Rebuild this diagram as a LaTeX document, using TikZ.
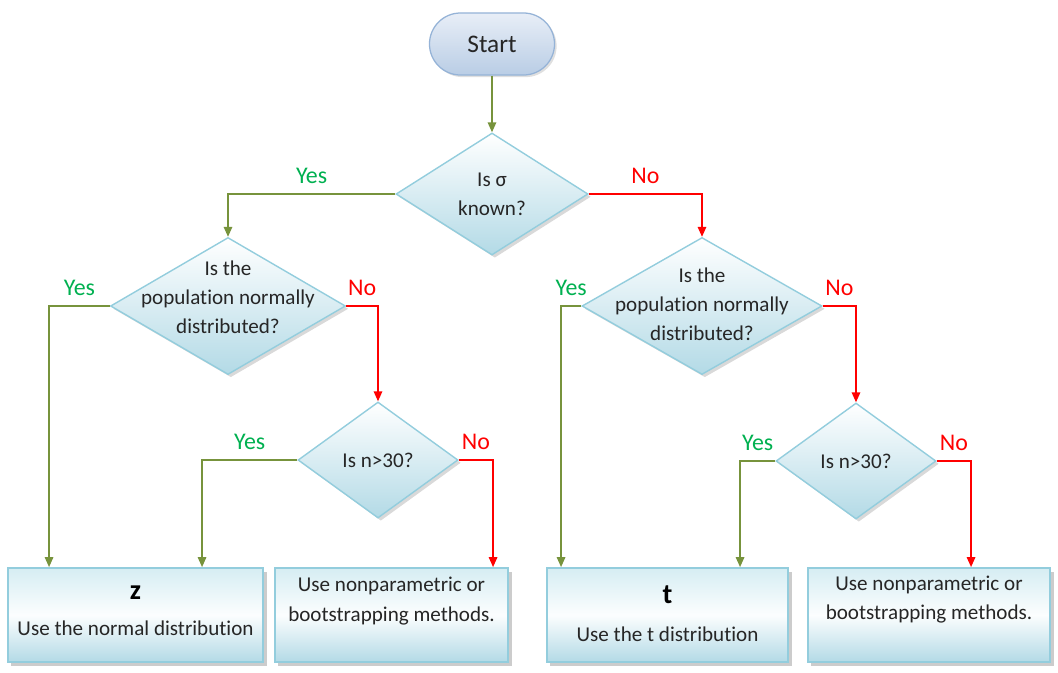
\documentclass[tikz,border=0pt]{standalone}
\usepackage{fontspec}
\setmainfont{Carlito}[Ligatures=NoCommon]
\usetikzlibrary{arrows.meta,positioning,calc,shapes.geometric,shapes.misc,shadows}
\definecolor{yesline}{HTML}{77933C}
\definecolor{yestext}{HTML}{00B050}
\definecolor{noline}{HTML}{FF0000}
\definecolor{boxdraw}{HTML}{93CDDD}
\definecolor{boxtop}{HTML}{D6EDF3}
\definecolor{boxbot}{HTML}{B3DAE6}
\definecolor{startdraw}{HTML}{95B3D7}
\definecolor{starttop}{HTML}{E8EEF7}
\definecolor{startbot}{HTML}{B9CDE5}
\begin{document}
\begin{tikzpicture}[x=0.025cm,y=-0.025cm,
      startnode/.style={rounded rectangle,draw=startdraw,line width=0.9pt,top color=starttop,bottom color=startbot,minimum width=3.125cm,minimum height=1.55cm,inner sep=0pt,font=\fontsize{18}{20}\selectfont,text=black!85,drop shadow={shadow xshift=1.5pt,shadow yshift=-1.5pt,opacity=0.25}},
      decision/.style={diamond,draw=boxdraw,line width=1pt,top color=white,bottom color=boxbot,inner sep=0pt,drop shadow={shadow xshift=2pt,shadow yshift=-2pt,opacity=0.3}},
      outcome/.style={rectangle,draw=boxdraw,line width=1.3pt,top color=boxtop,bottom color=boxbot,middle color=white!92!boxtop,minimum height=2.35cm,inner sep=0pt,drop shadow={shadow xshift=2.5pt,shadow yshift=-2.5pt,opacity=0.4}},
      qtext/.style={align=center,font=\fontsize{15}{20.5}\selectfont,text=black!85,inner sep=0pt},
      boxtext/.style={align=center,font=\fontsize{15}{21}\selectfont,text=black!85,inner sep=0pt},
      bigletter/.style={font=\fontsize{20}{22}\selectfont\bfseries,inner sep=0pt},
      yesedge/.style={draw=yesline,line width=1pt,-{Triangle[length=7pt,width=6pt]}},
      noedge/.style={draw=noline,line width=1pt,-{Triangle[length=7pt,width=6pt]}},
      yeslabel/.style={above,text=yestext,font=\fontsize{17}{20}\selectfont,inner sep=3pt,yshift=4pt},
      nolabel/.style={above,text=noline,font=\fontsize{17}{20}\selectfont,inner sep=3pt,yshift=4pt}]
    \useasboundingbox (0,0) rectangle (1058,672);
    % start and decisions
    \node[startnode] (start) at (492,44) {Start};
    \node[decision,minimum width=4.8cm,minimum height=3.05cm] (known) at (492,194) {};
    \node[decision,minimum width=5.875cm,minimum height=3.425cm] (normL) at (228,306) {};
    \node[decision,minimum width=6cm,minimum height=3.425cm] (normR) at (702,306) {};
    \node[decision,minimum width=4cm,minimum height=2.9cm] (sizeL) at (378,460) {};
    \node[decision,minimum width=4cm,minimum height=2.9cm] (sizeR) at (856,461) {};
    \node[qtext] at (known) {Is σ\\known?};
    \node[qtext] at (228,297) {Is the\\population normally\\distributed?};
    \node[qtext] at (702,304) {Is the\\population normally\\distributed?};
    \node[qtext] at (sizeL) {Is n>30?};
    \node[qtext] at (sizeR) {Is n>30?};
    % outcomes
    \node[outcome,minimum width=6.375cm] (zbox) at (135.5,615) {};
    \node[outcome,minimum width=5.825cm] (npL) at (391.5,615) {};
    \node[outcome,minimum width=6.025cm] (tbox) at (667.5,615) {};
    \node[outcome,minimum width=6.05cm] (npR) at (929,615) {};
    \node[bigletter,below=13pt of zbox.north] (zlet) {z};
    \node[boxtext,below=15pt of zlet] {Use the normal distribution};
    \node[bigletter,below=13pt of tbox.north] (tlet) {t};
    \node[boxtext,below=16pt of tlet] {Use the t distribution};
    \node[boxtext,below=7pt of npL.north] {Use nonparametric or\\bootstrapping methods.};
    \node[boxtext,below=6pt of npR.north] {Use nonparametric or\\bootstrapping methods.};
    % connectors
    \draw[yesedge] (start.south) -- (known.north);
    \draw[yesedge] (known.west) -| node[yeslabel,pos=0.25] {Yes} (normL.north);
    \draw[noedge] (known.east) -| node[nolabel,pos=0.25] {No} (normR.north);
    \draw[yesedge] (normL.west) -| node[yeslabel,pos=0.25] {Yes} ($(zbox.north west)+(42,0)$);
    \draw[noedge] (normL.east) -| node[nolabel,pos=0.25] {No} (sizeL.north);
    \draw[yesedge] (sizeL.west) -| node[yeslabel,pos=0.25] {Yes} ($(zbox.north west)+(195,0)$);
    \draw[noedge] (sizeL.east) -| node[nolabel,pos=0.25] {No} ($(npL.north west)+(219,0)$);
    \draw[yesedge] (normR.west) -| node[yeslabel,pos=0.25] {Yes} ($(tbox.north west)+(15,0)$);
    \draw[noedge] (normR.east) -| node[nolabel,pos=0.25] {No} (sizeR.north);
    \draw[yesedge] (sizeR.west) -| node[yeslabel,pos=0.25] {Yes} ($(tbox.north west)+(194,0)$);
    \draw[noedge] (sizeR.east) -| node[nolabel,pos=0.25] {No} ($(npR.north west)+(164,0)$);
  \end{tikzpicture}
\end{document}
